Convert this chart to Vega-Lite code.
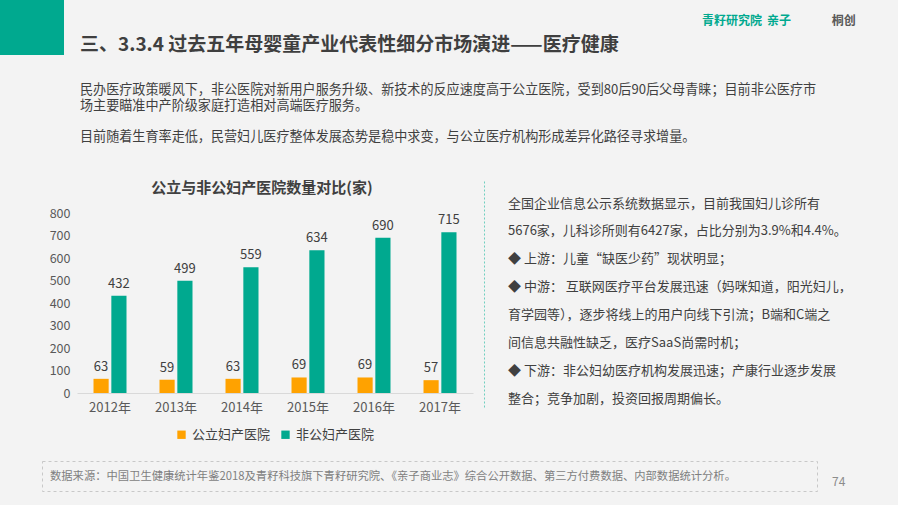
{
  "$schema": "https://vega.github.io/schema/vega-lite/v6.json",
  "background": "#f3f3f3",
  "padding": 0,
  "spacing": 0,
  "bounds": "full",
  "resolve": {"scale": {"color": "independent"}, "legend": {"color": "independent"}},
  "config": {
    "view": {"stroke": null},
    "font": "Noto Sans CJK SC",
    "legend": {"layout": {"bottom": {"anchor": "middle"}}}
  },
  "vconcat": [
    {
      "spacing": 16,
      "bounds": "flush",
      "resolve": {"scale": {"color": "independent"}, "legend": {"color": "independent"}},
      "hconcat": [
        {
          "width": 64, "height": 55,
          "view": {"fill": "#00a98f", "stroke": null},
          "data": {"values": [{}]},
          "mark": {"type": "text", "text": ""}
        },
        {
          "width": 606, "height": 55,
          "data": {"values": [{"t": "三、3.3.4 过去五年母婴童产业代表性细分市场演进——医疗健康"}]},
          "mark": {"type": "text", "align": "left", "baseline": "middle", "dy": 17, "fontSize": 19, "fontWeight": "bold", "color": "#3f3f3f"},
          "encoding": {
            "text": {"field": "t"},
            "x": {"datum": 0, "type": "quantitative", "scale": {"domain": [0, 1]}, "axis": null}
          }
        },
        {
          "width": 196, "height": 55,
          "data": {"values": [{"name": "青籽研究院"}, {"name": "亲子"}, {"name": "桐创"}]},
          "mark": {"type": "text", "align": "left", "baseline": "middle", "dy": -7, "fontSize": 12, "fontWeight": "bold"},
          "encoding": {
            "x": {"field": "name", "type": "nominal", "sort": null, "scale": {"type": "point", "padding": 0.51, "align": 0}, "axis": null},
            "text": {"field": "name"},
            "color": {"field": "name", "type": "nominal", "sort": null, "scale": {"domain": ["青籽研究院", "亲子", "桐创"], "range": ["#00a98f", "#00a98f", "#595959"]}, "legend": null}
          }
        }
      ]
    },
    {
      "spacing": 16,
      "bounds": "flush",
      "hconcat": [
        {
          "width": 64, "height": 125,
          "data": {"values": [{}]},
          "mark": {"type": "text", "text": ""}
        },
        {
          "width": 818, "height": 125,
          "data": {"values": [{"t": "民办医疗政策暖风下，非公医院对新用户服务升级、新技术的反应速度高于公立医院，受到80后90后父母青睐；目前非公医疗市\n场主要瞄准中产阶级家庭打造相对高端医疗服务。\n\u200b\n目前随着生育率走低，民营妇儿医疗整体发展态势是稳中求变，与公立医疗机构形成差异化路径寻求增量。"}]},
          "mark": {"type": "text", "align": "left", "baseline": "middle", "lineBreak": "\n", "lineHeight": 15.7, "dy": 35, "fontSize": 13.1, "color": "#404040"},
          "encoding": {
            "text": {"field": "t"},
            "x": {"datum": 0, "type": "quantitative", "scale": {"domain": [0, 1]}, "axis": null},
            "y": {"datum": 1, "type": "quantitative", "scale": {"domain": [0, 1]}, "axis": null}
          }
        }
      ]
    },
    {
      "spacing": 35,
      "bounds": "flush",
      "resolve": {"scale": {"color": "independent"}, "legend": {"color": "independent"}},
      "hconcat": [
        {
          "width": 42, "height": 280,
          "data": {"values": [{}]},
          "mark": {"type": "text", "text": ""}
        },
        {
          "width": 396, "height": 213,
          "data": {"values": [
            {"year": "2012年", "type": "公立妇产医院", "count": 63},
            {"year": "2012年", "type": "非公妇产医院", "count": 432},
            {"year": "2013年", "type": "公立妇产医院", "count": 59},
            {"year": "2013年", "type": "非公妇产医院", "count": 499},
            {"year": "2014年", "type": "公立妇产医院", "count": 63},
            {"year": "2014年", "type": "非公妇产医院", "count": 559},
            {"year": "2015年", "type": "公立妇产医院", "count": 69},
            {"year": "2015年", "type": "非公妇产医院", "count": 634},
            {"year": "2016年", "type": "公立妇产医院", "count": 69},
            {"year": "2016年", "type": "非公妇产医院", "count": 690},
            {"year": "2017年", "type": "公立妇产医院", "count": 57},
            {"year": "2017年", "type": "非公妇产医院", "count": 715}
          ]},
          "title": {"text": "公立与非公妇产医院数量对比(家)", "fontSize": 15, "fontWeight": "bold", "color": "#404040", "offset": -16, "dx": -13},
          "encoding": {
            "x": {"field": "year", "type": "nominal", "sort": null, "scale": {"paddingInner": 0.5, "paddingOuter": 0.25},
              "axis": {"title": null, "labelAngle": 0, "ticks": false, "domainColor": "#d9d9d9", "labelFontSize": 13, "labelColor": "#595959", "labelPadding": 8}},
            "xOffset": {"field": "type", "type": "nominal", "sort": ["公立妇产医院", "非公妇产医院"], "scale": {"paddingInner": 0.15}},
            "y": {"field": "count", "type": "quantitative", "scale": {"domain": [0, 946.67], "nice": false},
              "axis": {"title": null, "grid": false, "ticks": false, "domain": false, "values": [0, 100, 200, 300, 400, 500, 600, 700, 800], "labelFontSize": 12.5, "labelColor": "#595959", "labelPadding": 7}}
          },
          "layer": [
            {
              "mark": {"type": "bar"},
              "encoding": {
                "color": {"field": "type", "type": "nominal",
                  "scale": {"domain": ["公立妇产医院", "非公妇产医院"], "range": ["#ffa200", "#00a98f"]},
                  "legend": {"title": null, "orient": "bottom", "direction": "horizontal", "symbolType": "square", "symbolSize": 70, "symbolStrokeWidth": 0, "labelFontSize": 13, "labelColor": "#404040", "offset": 14, "columnPadding": 8}}
              }
            },
            {
              "mark": {"type": "text", "baseline": "bottom", "dy": -5, "fontSize": 13, "color": "#404040"},
              "encoding": {"text": {"field": "count", "type": "quantitative"}}
            }
          ]
        },
        {
          "width": 390, "height": 227,
          "data": {"values": [{"t": "全国企业信息公示系统数据显示，目前我国妇儿诊所有\n5676家，儿科诊所则有6427家，占比分别为3.9%和4.4%。\n◆ 上游：儿童“缺医少药”现状明显；\n◆ 中游： 互联网医疗平台发展迅速（妈咪知道，阳光妇儿，\n育学园等），逐步将线上的用户向线下引流；B端和C端之\n间信息共融性缺乏，医疗SaaS尚需时机；\n◆ 下游：非公妇幼医疗机构发展迅速；产康行业逐步发展\n整合；竞争加剧，投资回报周期偏长。"}]},
          "mark": {"type": "text", "align": "left", "baseline": "middle", "lineBreak": "\n", "lineHeight": 27.9, "dy": 23.5, "fontSize": 13, "color": "#404040"},
          "encoding": {
            "text": {"field": "t"},
            "x": {"datum": 0, "type": "quantitative", "scale": {"domain": [0, 1]}, "axis": null},
            "y": {"datum": 1, "type": "quantitative", "scale": {"domain": [0, 1]},
              "axis": {"title": null, "labels": false, "ticks": false, "grid": false, "offset": 24, "domainColor": "#6fcfbf", "domainDash": [2, 2], "domainWidth": 1}}
          }
        }
      ]
    },
    {
      "spacing": 15,
      "bounds": "flush",
      "hconcat": [
        {
          "width": 27, "height": 30,
          "data": {"values": [{}]},
          "mark": {"type": "text", "text": ""}
        },
        {
          "width": 775, "height": 30,
          "view": {"stroke": "#c8c8c8", "strokeDash": [3, 3], "strokeWidth": 1},
          "data": {"values": [{"t": "数据来源：中国卫生健康统计年鉴2018及青籽科技旗下青籽研究院、《亲子商业志》综合公开数据、第三方付费数据、内部数据统计分析。"}]},
          "mark": {"type": "text", "align": "left", "baseline": "middle", "dx": 8, "dy": 1, "fontSize": 11.3, "color": "#7f7f7f"},
          "encoding": {
            "text": {"field": "t"},
            "x": {"datum": 0, "type": "quantitative", "scale": {"domain": [0, 1]}, "axis": null}
          }
        },
        {
          "width": 66, "height": 30,
          "data": {"values": [{"t": "74"}]},
          "mark": {"type": "text", "align": "left", "baseline": "middle", "dy": 6, "fontSize": 12, "color": "#8c8c8c"},
          "encoding": {
            "text": {"field": "t"},
            "x": {"datum": 0, "type": "quantitative", "scale": {"domain": [0, 1]}, "axis": null}
          }
        }
      ]
    },
    {
      "width": 898, "height": 14,
      "data": {"values": [{}]},
      "mark": {"type": "text", "text": ""},
      "encoding": {
        "x": {"datum": 0, "type": "quantitative", "scale": {"domain": [0, 1]},
          "axis": {"title": null, "labels": false, "ticks": false, "grid": false, "domainColor": "#c9dcea", "domainWidth": 2}}
      }
    }
  ]
}
